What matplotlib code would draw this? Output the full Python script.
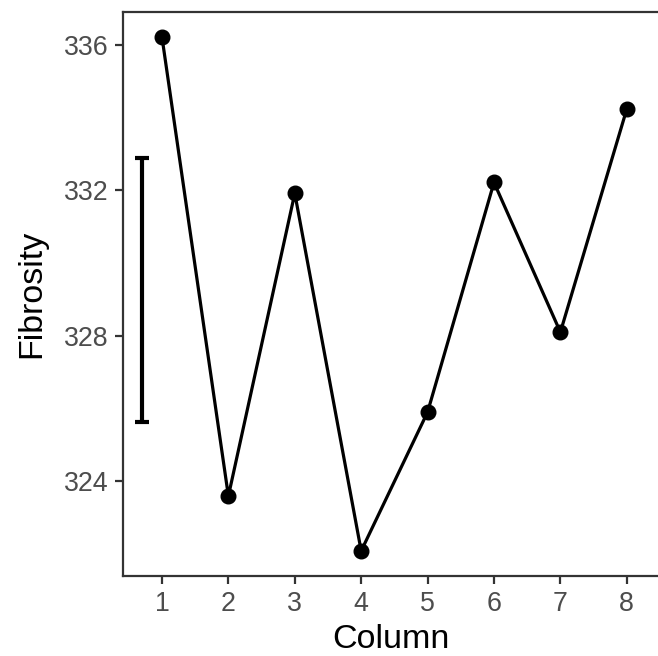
import matplotlib
matplotlib.use("Agg")
import matplotlib.pyplot as plt

columns = [1, 2, 3, 4, 5, 6, 7, 8]
fibrosity = [336.22, 323.59, 331.92, 322.08, 325.9, 332.22, 328.1, 334.24]
err_x = 0.7
err_center = 329.26
err_half = 3.64

plt.rcParams['font.family'] = ['Liberation Sans', 'DejaVu Sans']
fig = plt.figure(figsize=(6.58, 6.56), dpi=100)
ax = fig.add_axes([123/658, 1-576/656, 1-123/658, (576-12)/656])
ax.plot(columns, fibrosity, color='black', lw=2.3, marker='o', ms=10.5, zorder=3)
ax.errorbar([err_x], [err_center], yerr=[err_half], fmt='none', ecolor='black',
            elinewidth=3, capsize=4.7, capthick=3)
ax.set_xlim(0.413, 8.47)
ax.set_ylim(321.39, 336.91)
ax.set_xticks(columns)
ax.set_yticks([324, 328, 332, 336])
for s in ['left', 'bottom', 'top']:
    ax.spines[s].set_color('#333333')
    ax.spines[s].set_linewidth(1.6)
ax.spines['right'].set_visible(False)
ax.tick_params(axis='both', length=6, width=1.6, color='#333333',
               labelsize=19.3, labelcolor='#4D4D4D', pad=4.5)
ax.set_xlabel('Column', fontsize=24.5, labelpad=5.5)
ax.set_ylabel('Fibrosity', fontsize=24.5, labelpad=12)
fig.savefig('out.png', dpi=100)
